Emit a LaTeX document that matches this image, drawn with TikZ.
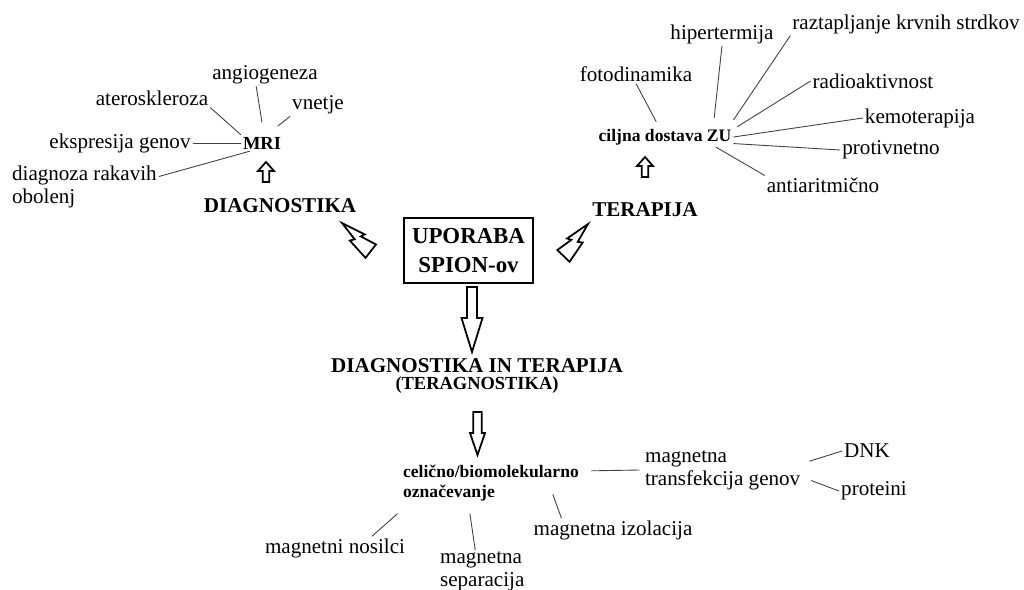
\documentclass[tikz,border=0pt]{standalone}
\usepackage{fontspec}
\setmainfont{Liberation Serif}
\tikzset{
  lbl/.style={inner sep=1pt, font=\fontsize{12}{13}\selectfont, align=left},
  bl/.style={inner sep=1pt, font=\fontsize{10}{11.3}\selectfont\bfseries, align=left},
  hd/.style={inner sep=1pt, font=\fontsize{12}{13}\selectfont\bfseries, align=center},
  link/.style={draw=black!75, line width=.5pt},
  blk/.style={draw, line width=1pt, line join=miter},
  bolt/.pic={\draw[blk] (0,0)--(20,5)--(17,9)--(40,13)--(40,-4)--(23,-1)--(25,-5)--cycle;}
}
\newcommand\uparr[2]{\draw[blk] (#1,#2)--++(8,9)--++(-4.7,0)--++(0,11)--++(-6.6,0)--++(0,-11)--++(-4.7,0)--cycle;}
\newcommand\downarr[6]{\draw[blk] (#1-#3,#2)--(#1+#3,#2)--(#1+#3,#5)--(#1+#4,#5)--(#1,#6)--(#1-#4,#5)--(#1-#3,#5)--cycle;}
\begin{document}
\begin{tikzpicture}[x=0.02cm, y=-0.02cm]
\useasboundingbox (0,0) rectangle (1024,589);
% diagnostika
\node[lbl] (angio) at (265,75) {angiogeneza};
\node[lbl] (ater) at (152,98) {ateroskleroza};
\node[lbl] (vnetje) at (318,105) {vnetje};
\node[bl, font=\fontsize{10.5}{12}\selectfont\bfseries] (mri) at (262,143) {MRI};
\node[lbl] (eksp) at (120,143) {ekspresija genov};
\node[lbl, anchor=west] (diag) at (10,187) {diagnoza rakavih\\obolenj};
\node[hd] (dgn) at (280,206) {DIAGNOSTIKA};
\draw[link] (ater.south east)--(mri.north west);
\draw[link] ([xshift=-5pt]angio.south)--([yshift=7pt]mri.north);
\draw[link] (vnetje.south west)--([shift={(-3pt,5pt)}]mri.north east);
\draw[link] (eksp)--(mri);
\draw[link] (diag.8)--(mri.214);
\uparr{266}{162}
% sredina
\node[draw, line width=1.4pt, inner sep=2pt, minimum width=2.58cm, minimum height=1.3cm, align=center,
  font=\fontsize{13}{16}\selectfont\bfseries] (upo) at (468.5,250.5) {UPORABA\\SPION-ov};
\pic[rotate=-38] at (342,223) {bolt};
\pic[rotate=-134, yscale=-1] at (588,224) {bolt};
% terapija
\node[hd] (ter) at (645,210) {TERAPIJA};
\node[bl] (zu) at (665,137) {ciljna dostava ZU};
\node[lbl] (foto) at (636,74) {fotodinamika};
\node[lbl] (hiper) at (722,34) {hipertermija};
\node[lbl] (raz) at (906,24) {raztapljanje krvnih strdkov};
\node[lbl] (radio) at (873,81) {radioaktivnost};
\node[lbl] (kemo) at (920,118) {kemoterapija};
\node[lbl] (protiv) at (891,150) {protivnetno};
\node[lbl] (anti) at (823,185) {antiaritmično};
\draw[link] (foto.south)--([xshift=-5pt,yshift=3pt]zu.north);
\draw[link] (hiper.south)--([shift={(-11pt,5pt)}]zu.north east);
\draw[link] (raz.south west)--([yshift=4pt]zu.north east);
\draw[link] (radio.west)--([xshift=2pt]zu.north east);
\draw[link] (kemo.west)--(zu.east);
\draw[link] (protiv.west)--([yshift=2pt]zu.south east);
\draw[link] (anti.north west)--([xshift=-10pt]zu.south east);
\uparr{645}{157}
% teragnostika
\downarr{472}{287}{5}{10.5}{318}{352}
\node[hd] (tera) at (477,376) {DIAGNOSTIKA IN TERAPIJA\\[-3pt]{\fontsize{10.5}{12}\selectfont (TERAGNOSTIKA)}};
\downarr{477.5}{412}{4.3}{7.5}{433}{455}
\node[bl, anchor=west] (cel) at (401,483) {celično/biomolekularno\\označevanje};
\node[lbl, anchor=west] (transf) at (643,470) {magnetna\\transfekcija genov};
\node[lbl] (dnk) at (867,451) {DNK};
\node[lbl] (prot) at (874,491) {proteini};
\node[lbl] (izol) at (613,530) {magnetna izolacija};
\node[lbl] (nos) at (335,548) {magnetni nosilci};
\node[lbl, anchor=north west] (sep) at (438,550) {magnetna\\separacija};
\draw[link] ([shift={(6pt,-4.5pt)}]cel.north east)--([xshift=-2pt]transf.west);
\draw[link] ([shift={(4pt,5pt)}]transf.east)--(dnk.west);
\draw[link] ([shift={(5pt,-6pt)}]transf.east)--(prot.west);
\draw[link] ([shift={(-16pt,5pt)}]cel.south east)--([xshift=17pt]izol.north west);
\draw[link] ([shift={(-2pt,-6pt)}]cel.south west)--([xshift=-20pt]nos.north east);
\draw[link] ([shift={(-12pt,-6pt)}]cel.south)--([xshift=-4pt]sep.north);
\end{tikzpicture}
\end{document}
